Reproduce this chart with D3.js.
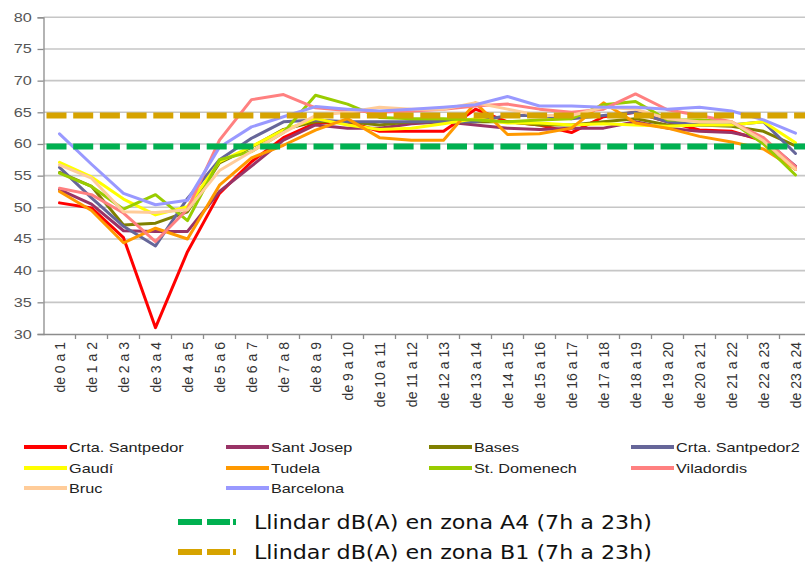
<!DOCTYPE html>
<html><head><meta charset="utf-8">
<script src="https://cdn.jsdelivr.net/npm/d3@7/dist/d3.min.js"></script>
<style>body{margin:0;background:#fff}svg{display:block}</style>
</head><body><svg id="c" width="805" height="567"></svg>
<script>
// ---------- DATA ----------
const hours = ["de 0 a 1","de 1 a 2","de 2 a 3","de 3 a 4","de 4 a 5","de 5 a 6","de 6 a 7","de 7 a 8",
  "de 8 a 9","de 9 a 10","de 10 a 11","de 11 a 12","de 12 a 13","de 13 a 14","de 14 a 15","de 15 a 16",
  "de 16 a 17","de 17 a 18","de 18 a 19","de 19 a 20","de 20 a 21","de 21 a 22","de 22 a 23","de 23 a 24"];
const yTicks = [30,35,40,45,50,55,60,65,70,75,80];

const seriesNames = ["Crta. Santpedor","Sant Josep","Bases","Crta. Santpedor2","Gaudí","Tudela","St. Domenech","Viladordis","Bruc","Barcelona"];
const seriesColors = ["#FF0000","#993366","#808000","#666699","#FFFF00","#FF9900","#99CC00","#FF8080","#FFCC99","#9999FF"];

const crtaSantpedor  = [50.7,49.9,45.2,31.0,43.0,52.2,57.2,61.0,63.3,63.5,62.0,62.0,62.0,65.5,63.5,63.0,61.8,64.3,65.0,63.5,62.2,62.0,60.5,56.0];
const santJosep      = [52.8,50.5,46.3,46.2,46.2,52.5,56.5,60.6,63.0,62.5,62.5,63.2,63.5,63.0,62.5,62.3,62.5,62.5,63.5,62.5,62.0,61.8,60.8,56.5];
const bases          = [55.5,53.3,47.2,47.5,49.3,57.0,59.5,62.3,63.5,63.5,63.0,63.5,63.5,63.5,63.5,63.0,63.0,63.5,64.0,63.0,63.0,62.8,62.0,59.7];
const crtaSantpedor2 = [56.3,51.5,47.0,43.9,51.4,57.5,60.9,63.5,63.8,63.5,63.5,63.5,63.5,63.5,64.5,64.5,64.0,64.5,65.0,63.5,63.0,63.0,63.5,58.5];
const gaudi          = [57.1,54.8,51.3,48.8,50.1,57.2,59.6,62.2,64.0,63.0,62.3,62.5,63.2,64.0,63.3,63.3,63.0,63.2,63.0,62.8,63.0,63.0,63.5,60.2];
const tudela         = [52.5,49.5,44.4,46.7,45.0,53.5,57.8,59.8,62.2,64.0,61.0,60.6,60.6,66.5,61.5,61.6,62.5,66.5,63.3,62.5,61.2,60.3,59.2,56.0];
const stDomenech     = [55.4,53.3,49.7,52.0,47.9,57.5,58.8,61.8,67.7,66.3,64.2,64.0,64.0,63.8,63.5,63.8,64.0,66.2,66.7,63.8,63.8,63.5,60.0,55.1];
const viladordis     = [53.0,52.0,49.1,44.6,49.7,60.6,67.0,67.8,65.7,65.3,65.0,65.2,65.5,66.0,66.3,65.5,65.0,65.5,67.9,65.4,64.5,63.5,61.0,56.4];
const bruc           = [56.7,54.6,49.3,49.2,49.6,55.8,58.8,61.8,64.5,65.0,65.8,65.5,65.5,66.5,65.5,64.5,64.5,65.8,65.5,64.0,63.5,63.5,60.5,56.0];
const barcelona      = [61.6,56.8,52.2,50.4,51.1,59.5,62.7,64.3,65.9,65.5,65.2,65.5,65.8,66.2,67.5,66.0,66.0,65.8,65.8,65.5,65.8,65.2,63.8,61.7];
const seriesValues = [crtaSantpedor,santJosep,bases,crtaSantpedor2,gaudi,tudela,stDomenech,viladordis,bruc,barcelona];

const thresholdValues = [59.6, 64.5];
const thresholdColors = ["#00B050","#D6A300"];
const thresholdLabels = ["Llindar dB(A) en zona A4 (7h a 23h)","Llindar dB(A) en zona B1 (7h a 23h)"];

// ---------- CHART ----------
const W = 805, H = 567;
const plotLeft = 43.5, plotTop = 17.3, plotBottom = 334, bandW = 32.0;
const svg = d3.select("#c");
svg.append("rect").attr("width",W).attr("height",H).attr("fill","#fff");

const x = d3.scaleBand().domain(hours).range([plotLeft, plotLeft + bandW*hours.length]).padding(0);
const y = d3.scaleLinear().domain([30,80]).range([plotBottom, plotTop]);
const cx = h => x(h) + x.bandwidth()/2;

// gridlines
svg.append("g").selectAll("line").data(yTicks.filter(t=>t>30)).join("line")
  .attr("x1", plotLeft).attr("x2", W).attr("y1", d=>y(d)).attr("y2", d=>y(d))
  .attr("stroke","#c6c6c6").attr("stroke-width",1.6);

// y axis
const yAx = svg.append("g").attr("transform",`translate(${plotLeft},0)`)
  .call(d3.axisLeft(y).tickValues(yTicks).tickSize(6).tickPadding(3).tickFormat(d3.format("d")));
yAx.select(".domain").attr("stroke","#8c8c8c").attr("stroke-width",1.3);
yAx.selectAll(".tick line").attr("stroke","#8c8c8c").attr("stroke-width",1.3);
yAx.selectAll(".tick text").attr("font-family","Liberation Sans, Arial, sans-serif").attr("font-size",12.5)
  .attr("fill","#555").attr("transform","scale(1.3,1)");

// x axis
const xAx = svg.append("g").attr("transform",`translate(0,${plotBottom})`)
  .call(d3.axisBottom(x).tickSize(0));
xAx.select(".domain").attr("d",`M${plotLeft},0.5H${W}`).attr("stroke","#8c8c8c").attr("stroke-width",1.3);
xAx.selectAll(".tick text").attr("transform","rotate(-90)").attr("text-anchor","end")
  .attr("x",-8).attr("y",0).attr("dy","0.36em")
  .attr("font-family","Liberation Sans, Arial, sans-serif").attr("font-size",14).attr("fill","#333");
// boundary tick marks
svg.append("g").selectAll("line").data(hours).join("line")
  .attr("x1", d=>x(d)+x.bandwidth()).attr("x2", d=>x(d)+x.bandwidth())
  .attr("y1", plotBottom).attr("y2", plotBottom+5).attr("stroke","#8c8c8c").attr("stroke-width",1.3);

// series
const line = d3.line().x((d,i)=>cx(hours[i])).y(d=>y(d));
svg.append("g").selectAll("path").data(seriesValues).join("path")
  .attr("d", d=>line(d)).attr("fill","none")
  .attr("stroke",(d,i)=>seriesColors[i]).attr("stroke-width",3)
  .attr("stroke-linejoin","round").attr("stroke-linecap","round");

// threshold lines
svg.append("g").selectAll("line").data(thresholdValues).join("line")
  .attr("x1", plotLeft+3).attr("x2", W).attr("y1", d=>y(d)).attr("y2", d=>y(d))
  .attr("stroke",(d,i)=>thresholdColors[i]).attr("stroke-width",6)
  .attr("stroke-dasharray","20 6.7");

// series legend
const legCols = [24, 226, 429, 631], legRows = [447, 468, 488];
const leg = svg.append("g").selectAll("g").data(seriesNames).join("g")
  .attr("transform",(d,i)=>`translate(${legCols[i%4]},${legRows[Math.floor(i/4)]})`);
leg.append("line").attr("x1",0).attr("x2",43).attr("y1",0).attr("y2",0)
  .attr("stroke",(d,i)=>seriesColors[i]).attr("stroke-width",4);
leg.append("text").text(d=>d).attr("transform","translate(45,5) scale(1.25,1)")
  .attr("font-family","Liberation Sans, Arial, sans-serif").attr("font-size",13).attr("fill","#222");

// threshold legend
const tRows = [522, 552];
const tl = svg.append("g").selectAll("g").data(thresholdLabels).join("g")
  .attr("transform",(d,i)=>`translate(178,${tRows[i]})`);
tl.append("line").attr("x1",0).attr("x2",58.5).attr("y1",0).attr("y2",0)
  .attr("stroke",(d,i)=>thresholdColors[i]).attr("stroke-width",6)
  .attr("stroke-dasharray","24 5 23 3 3 100");
tl.append("text").text(d=>d).attr("transform","translate(76,7) scale(1.11,1)")
  .attr("font-family","DejaVu Sans, Verdana, sans-serif").attr("font-size",20).attr("fill","#111");
</script></body></html>
